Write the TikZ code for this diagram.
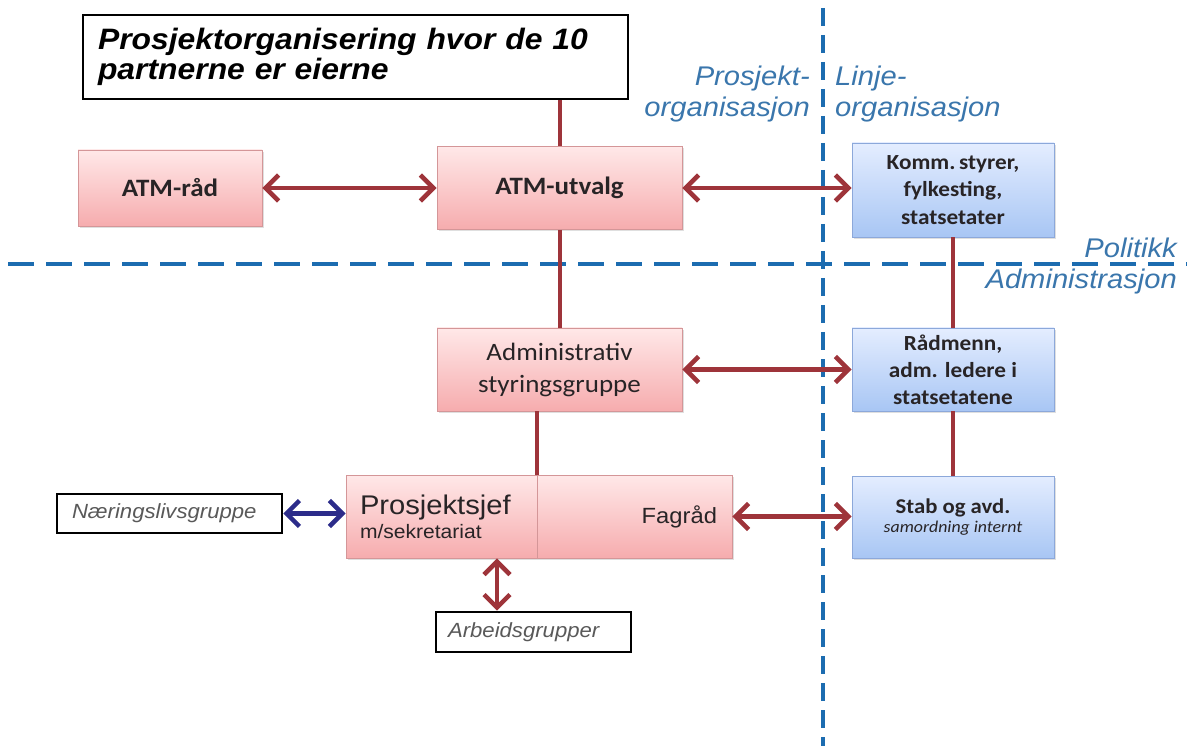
\documentclass[tikz,border=0pt]{standalone}
\usepackage{fontspec}
\setmainfont{Liberation Sans}[FakeStretch=1.08]
\newfontfamily\calibri{Carlito}[FakeStretch=1.08]
\usetikzlibrary{arrows.meta,shadows}

\definecolor{linkred}{RGB}{158,52,58}
\definecolor{pinktop}{RGB}{255,232,232}
\definecolor{pinkbot}{RGB}{246,172,174}
\definecolor{pinkline}{RGB}{212,150,152}
\definecolor{bluetop}{RGB}{228,237,255}
\definecolor{bluebot}{RGB}{168,198,244}
\definecolor{blueline}{RGB}{140,168,218}
\definecolor{dashblue}{RGB}{28,108,176}
\definecolor{labelblue}{RGB}{58,118,172}
\definecolor{navyarrow}{RGB}{44,44,138}
\definecolor{boxtext}{RGB}{40,36,38}

\begin{document}
\begin{tikzpicture}[x=1pt, y=-1pt,
    pinkbox/.style={draw=pinkline, line width=0.8pt, top color=pinktop, bottom color=pinkbot,
        inner sep=0pt, text=boxtext, drop shadow={shadow xshift=2pt, shadow yshift=-2pt, opacity=0.25}},
    bluebox/.style={draw=blueline, line width=0.8pt, top color=bluetop, bottom color=bluebot,
        inner sep=0pt, text=boxtext, align=center, drop shadow={shadow xshift=2pt, shadow yshift=-2pt, opacity=0.25}},
    framebox/.style={draw=black, line width=2.6pt, fill=white, inner sep=0pt},
    sidelabel/.style={text=labelblue, font=\itshape\fontsize{27}{31}\selectfont, inner sep=0pt},
    link/.style={draw=linkred, line width=4pt},
    twoway/.style={draw=linkred, line width=4.5pt, {Straight Barb[length=13pt,width=26pt]}-{Straight Barb[length=13pt,width=26pt]}},
    divideline/.style={draw=dashblue, line width=4.5pt}]

    \useasboundingbox (0,0) rectangle (1187,746);

    \draw[divideline, dash pattern=on 18pt off 9pt] (823,8) -- (823,746);
    \draw[divideline, dash pattern=on 26pt off 12pt] (8,264) -- (1187,264);

    \node[framebox, minimum width=545pt, minimum height=84pt, text width=531pt, inner xsep=7pt, align=left,
        font=\bfseries\itshape\fontsize{29.5}{30}\selectfont] (title) at (355.5,57)
        {\hspace*{8pt}Prosjektorganisering hvor de 10\\\hspace*{8pt}partnerne er eierne};

    \node[sidelabel, anchor=east, align=right] (prosjektlabel) at (810,94) {Prosjekt-\\organisasjon};
    \node[sidelabel, anchor=west, align=left] (linjelabel) at (835,94) {Linje-\\organisasjon};
    \node[sidelabel, anchor=east, align=right] (nivaalabel) at (1177,266) {Politikk\\Administrasjon};

    \node[pinkbox, minimum width=184pt, minimum height=76pt, font=\calibri\bfseries\fontsize{25}{28}\selectfont]
        (atmraad) at (170,188) {ATM-råd};
    \node[pinkbox, minimum width=245pt, minimum height=83pt, font=\calibri\bfseries\fontsize{25}{28}\selectfont]
        (atmutvalg) at (559.5,188) {ATM-utvalg};
    \node[bluebox, minimum width=202pt, minimum height=94pt, font=\calibri\bfseries\fontsize{21.5}{27.5}\selectfont]
        (komm) at (953,190) {Komm.\,styrer,\\fylkesting,\\statsetater};

    \node[pinkbox, minimum width=245pt, minimum height=83pt, align=center,
        font=\calibri\fontsize{25}{32}\selectfont] (admin) at (559.5,369.5) {Administrativ\\styringsgruppe};
    \node[bluebox, minimum width=202pt, minimum height=83pt, font=\calibri\bfseries\fontsize{21.5}{27}\selectfont]
        (raadmenn) at (953,369.5) {Rådmenn,\\adm. ledere i\\statsetatene};

    \node[pinkbox, minimum width=191pt, minimum height=83pt, text width=163pt, inner xsep=14pt, align=left]
        (prosjektsjef) at (441.5,516.5)
        {{\fontsize{27}{30}\selectfont Prosjektsjef}\\[3pt]{\fontsize{19.5}{22}\selectfont m/sekretariat}};
    \node[pinkbox, minimum width=195pt, minimum height=83pt, text width=165pt, inner xsep=15pt, align=right,
        font=\fontsize{22}{26}\selectfont] (fagraad) at (634.5,516.5) {Fagråd};
    \node[bluebox, minimum width=202pt, minimum height=82pt] (stab) at (953,517)
        {{\calibri\bfseries\fontsize{21}{24}\selectfont Stab og avd.}\\[3pt]{\calibri\itshape\fontsize{16.5}{19}\selectfont samordning internt}};

    \node[framebox, minimum width=225pt, minimum height=39pt, text width=209pt, inner xsep=8pt, align=left,
        text=black!65, font=\itshape\fontsize{20.5}{22}\selectfont] (naering) at (169.5,513.5) {\hspace*{7pt}Næringslivsgruppe};
    \node[framebox, minimum width=195pt, minimum height=40pt, text width=179pt, inner xsep=8pt, align=left,
        text=black!65, font=\itshape\fontsize{20.5}{22}\selectfont] (arbeid) at (533.5,632) {\hspace*{4pt}Arbeidsgrupper};

    \draw[link] (atmutvalg.north) -- (atmutvalg.north |- title.south);
    \draw[link] (atmutvalg.south) -- (admin.north);
    \draw[link] (prosjektsjef.north east) -- (prosjektsjef.north east |- admin.south);
    \draw[link] (komm.south) -- (raadmenn.north);
    \draw[link] (raadmenn.south) -- (stab.north);

    \draw[twoway] (atmraad.east) -- (atmraad.east -| atmutvalg.west);
    \draw[twoway] (atmutvalg.east) -- (atmutvalg.east -| komm.west);
    \draw[twoway] (admin.east) -- (admin.east -| raadmenn.west);
    \draw[twoway] (fagraad.east) -- (fagraad.east -| stab.west);
    \draw[twoway] ([xshift=-36.5pt]arbeid.north) -- ([xshift=-36.5pt]arbeid.north |- prosjektsjef.south);
    \draw[twoway, draw=navyarrow] (naering.east) -- (naering.east -| prosjektsjef.west);
\end{tikzpicture}
\end{document}
